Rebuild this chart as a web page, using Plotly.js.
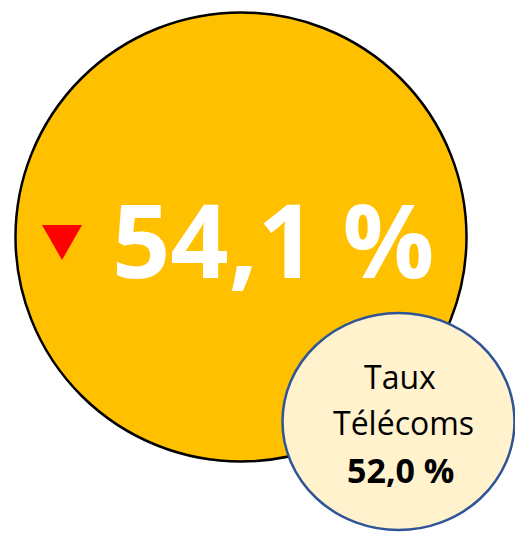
<!DOCTYPE html>
<html>
<head>
<meta charset="utf-8">
<script src="https://cdn.plot.ly/plotly-3.0.1.min.js"></script>
<style>html,body{margin:0;padding:0;background:#fff;}#chart{width:515px;height:533px;}</style>
</head>
<body>
<div id="chart"></div>
<script>
// Data
const mainValue = 54.1;          // taux principal (%)
const benchmarkLabel = ["Taux", "Télecoms"];
const benchmarkLabelText = ["Taux", "Télécoms"];
const benchmarkValue = 52.0;     // taux Télécoms (%)
const trend = "down";            // tendance indiquée par le triangle

function fmt(v) { return v.toFixed(1).replace('.', ',') + ' %'; }

// Layout geometry (pixels, axes map 1:1 to pixels)
const W = 515, H = 533;
const big = {cx: 241, cy: 237, rx: 225.5, ry: 224.5};
const small = {cx: 398.5, cy: 421.5, rx: 116, ry: 108.5};
const tri = {cx: 62, cy: 242.5, w: 40, h: 35};

const triPath = trend === "down"
  ? `M${tri.cx - tri.w/2},${tri.cy - tri.h/2} L${tri.cx + tri.w/2},${tri.cy - tri.h/2} L${tri.cx},${tri.cy + tri.h/2} Z`
  : `M${tri.cx - tri.w/2},${tri.cy + tri.h/2} L${tri.cx + tri.w/2},${tri.cy + tri.h/2} L${tri.cx},${tri.cy - tri.h/2} Z`;

const shapes = [
  {type: 'circle', xref: 'x', yref: 'y', x0: big.cx - big.rx, x1: big.cx + big.rx, y0: big.cy - big.ry, y1: big.cy + big.ry,
   fillcolor: '#FFC000', line: {color: '#000000', width: 2.5}, layer: 'below'},
  {type: 'circle', xref: 'x', yref: 'y', x0: small.cx - small.rx, x1: small.cx + small.rx, y0: small.cy - small.ry, y1: small.cy + small.ry,
   fillcolor: '#FFF2CC', line: {color: '#2F5597', width: 2.5}, layer: 'below'},
  {type: 'path', xref: 'x', yref: 'y', path: triPath, fillcolor: trend === "down" ? '#FF0000' : '#00B050', line: {width: 0}}
];

const annotations = [
  {x: 272.5, y: 238, xref: 'x', yref: 'y', text: '<b>' + fmt(mainValue) + '</b>', showarrow: false,
   font: {family: 'Open Sans', size: 102, color: '#FFFFFF'}, xanchor: 'center', yanchor: 'middle'},
  {x: 399.5, y: 376, xref: 'x', yref: 'y', text: benchmarkLabelText[0], showarrow: false,
   font: {family: 'Open Sans', size: 32, color: '#000000'}, xanchor: 'center', yanchor: 'middle'},
  {x: 403, y: 422, xref: 'x', yref: 'y', text: benchmarkLabelText[1], showarrow: false,
   font: {family: 'Open Sans', size: 32, color: '#000000'}, xanchor: 'center', yanchor: 'middle'},
  {x: 400.5, y: 470, xref: 'x', yref: 'y', text: '<b>' + fmt(benchmarkValue) + '</b>', showarrow: false,
   font: {family: 'Open Sans', size: 34, color: '#000000'}, xanchor: 'center', yanchor: 'middle'}
];

const layout = {
  width: W, height: H,
  margin: {l: 0, r: 0, t: 0, b: 0, pad: 0},
  paper_bgcolor: '#FFFFFF', plot_bgcolor: '#FFFFFF',
  xaxis: {range: [0, W], visible: false, fixedrange: true},
  yaxis: {range: [H, 0], visible: false, fixedrange: true},
  shapes: shapes,
  annotations: annotations,
  showlegend: false
};

Plotly.newPlot('chart', [{x: [], y: [], type: 'scatter', mode: 'markers', hoverinfo: 'skip'}], layout, {staticPlot: true, displayModeBar: false});
</script>
</body>
</html>
